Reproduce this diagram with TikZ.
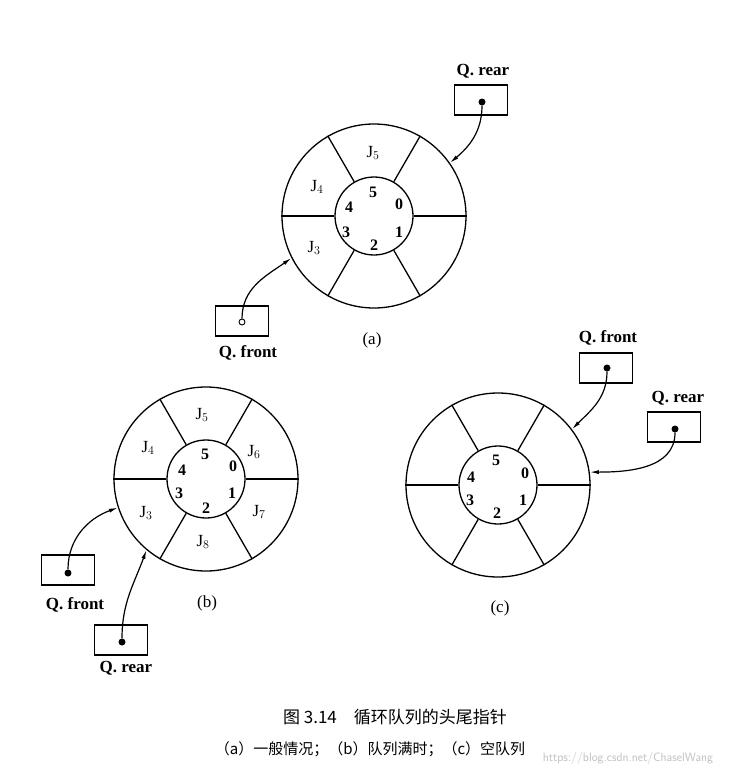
\documentclass[tikz,border=0pt]{standalone}
\usepackage{fontspec}
\setmainfont{Liberation Serif}
\newfontfamily\cjk{Noto Sans CJK SC}
\usetikzlibrary{arrows.meta,calc}
\tikzset{
  ring/.style={draw,circle,line width=1.3pt,inner sep=0pt,minimum size=184pt},
  hub/.style={draw,circle,line width=1.3pt,inner sep=0pt,minimum size=78pt},
  spoke/.style={line width=1.3pt},
  ptrbox/.style={draw,line width=1.1pt,minimum width=53pt,minimum height=30pt,inner sep=0pt},
  dotf/.style={circle,fill,inner sep=0pt,minimum size=7pt},
  doto/.style={circle,draw,line width=0.9pt,inner sep=0pt,minimum size=6pt},
  lbl/.style={font=\fontsize{17}{19}\selectfont\bfseries},
  jl/.style={font=\fontsize{17}{19}\selectfont},
  num/.style={font=\fontsize{16}{18}\selectfont\bfseries},
  captxt/.style={font=\fontsize{17}{19}\selectfont},
  ptr/.style={line width=1.2pt,-{Latex[length=9pt,width=4pt]}}
}
\newcommand{\myring}[2]{%
  \node[ring] (#1o) at (#2) {};
  \node[hub] (#1i) at (#2) {};
  \foreach \a in {0,60,120,180,240,300}
    \draw[spoke] (#1i.\a) -- (#1o.\a);
}
\begin{document}
\begin{tikzpicture}[x=1pt,y=-1pt]
\useasboundingbox[fill=white] (0,0) rectangle (737,779);
% (a)
\myring{a}{374,216}
\node[jl] (a5) at (373,153) {J$_{5}$};
\node[jl] (a4) at (317,187) {J$_{4}$};
\node[jl] (a3) at (314,248) {J$_{3}$};
\node[num] (an5) at (373,192) {5};
\node[num] (an4) at (349,207) {4};
\node[num] (an0) at (399,204) {0};
\node[num] (an3) at (346,232) {3};
\node[num] (an1) at (399,232) {1};
\node[num] (an2) at (374,245) {2};
\node[captxt] (acap) at (372,340) {(a)};
\node[ptrbox] (arb) at (481,100) {};
\node[dotf] (ard) at (482,102) {};
\node[lbl] (arl) at (483,71) {Q. rear};
\draw[ptr] (ard) to[out=-90,in=40] (ao.35);
\node[ptrbox] (afb) at (242,321) {};
\node[doto] (afd) at (242,322) {};
\node[lbl] (afl) at (248,353) {Q. front};
\draw[ptr] (afd) to[out=90,in=215] (ao.207);
% (b)
\myring{b}{206,479}
\node[jl] (b5) at (202,415) {J$_{5}$};
\node[jl] (b4) at (148,448) {J$_{4}$};
\node[jl] (b6) at (254,452) {J$_{6}$};
\node[jl] (b3) at (146,513) {J$_{3}$};
\node[jl] (b7) at (259,512) {J$_{7}$};
\node[jl] (b8) at (203,542) {J$_{8}$};
\node[num] (bn5) at (205,454) {5};
\node[num] (bn4) at (182,470) {4};
\node[num] (bn0) at (233,466) {0};
\node[num] (bn3) at (179,493) {3};
\node[num] (bn1) at (232,493) {1};
\node[num] (bn2) at (206,508) {2};
\node[captxt] (bcap) at (207,603) {(b)};
\node[ptrbox] (bfb) at (68,570) {};
\node[dotf] (bfd) at (68,573) {};
\node[lbl] (bfl) at (75,605) {Q. front};
\draw[ptr] (bfd) to[out=90,in=200] (bo.198);
\node[ptrbox] (brb) at (121,640) {};
\node[dotf] (brd) at (122,642) {};
\node[lbl] (brl) at (126,668) {Q. rear};
\draw[ptr] (brd) to[out=90,in=250] (bo.230);
% (c)
\myring{c}{498,485}
\node[num] (cn5) at (496,460) {5};
\node[num] (cn4) at (471,477) {4};
\node[num] (cn0) at (525,473) {0};
\node[num] (cn3) at (470,500) {3};
\node[num] (cn1) at (523,500) {1};
\node[num] (cn2) at (497,513) {2};
\node[captxt] (ccap) at (500,608) {(c)};
\node[ptrbox] (cfb) at (606,368) {};
\node[dotf] (cfd) at (607,368) {};
\node[lbl] (cfl) at (608,338) {Q. front};
\draw[ptr] (cfd) to[out=-90,in=45] (co.37);
\node[ptrbox] (crb) at (674,427) {};
\node[dotf] (crd) at (675,429) {};
\node[lbl] (crl) at (678,398) {Q. rear};
\draw[ptr] (crd) to[out=-90,in=0] (co.8);
% caption
\node[captxt] (t1) at (395,717) {\cjk 图\ 3.14\quad 循环队列的头尾指针};
\node[font=\fontsize{15}{17}\selectfont] (t2) at (370,749) {\cjk （a）一般情况；（b）队列满时；（c）空队列};
\node[font=\fontsize{12}{14}\selectfont\sffamily,text=black!25] (wm) at (628,758) {https://blog.csdn.net/ChaselWang};
\end{tikzpicture}
\end{document}
